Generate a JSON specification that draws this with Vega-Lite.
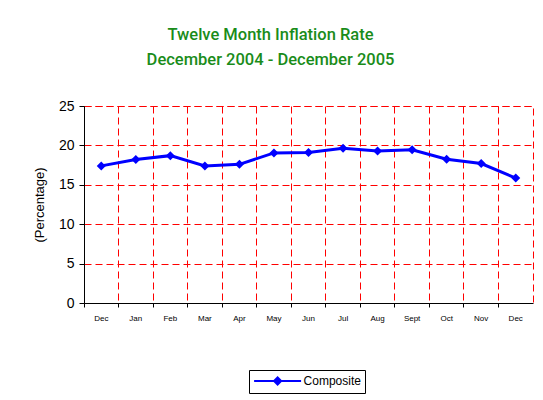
{
  "$schema": "https://vega.github.io/schema/vega-lite/v6.json",
  "width": 449,
  "height": 197,
  "autosize": {"type": "none"},
  "padding": {"left": 84, "top": 106, "right": 10, "bottom": 97},
  "background": "white",
  "title": {
    "text": ["Twelve Month Inflation Rate", "December 2004 - December 2005"],
    "color": "#1A8C1A",
    "font": "Roboto",
    "fontSize": 16.5,
    "fontWeight": 500,
    "anchor": "middle",
    "dx": -38,
    "lineHeight": 25,
    "offset": 31
  },
  "data": {
    "values": [
      {"month": "Dec 2004", "rate": 17.4, "series": "Composite"},
      {"month": "Jan", "rate": 18.2, "series": "Composite"},
      {"month": "Feb", "rate": 18.7, "series": "Composite"},
      {"month": "Mar", "rate": 17.4, "series": "Composite"},
      {"month": "Apr", "rate": 17.6, "series": "Composite"},
      {"month": "May", "rate": 19.05, "series": "Composite"},
      {"month": "Jun", "rate": 19.1, "series": "Composite"},
      {"month": "Jul", "rate": 19.65, "series": "Composite"},
      {"month": "Aug", "rate": 19.3, "series": "Composite"},
      {"month": "Sept", "rate": 19.45, "series": "Composite"},
      {"month": "Oct", "rate": 18.25, "series": "Composite"},
      {"month": "Nov", "rate": 17.7, "series": "Composite"},
      {"month": "Dec 2005", "rate": 15.85, "series": "Composite"}
    ]
  },
  "mark": {
    "type": "line",
    "strokeWidth": 3,
    "point": {"shape": "diamond", "size": 81, "filled": true}
  },
  "encoding": {
    "x": {
      "field": "month",
      "type": "nominal",
      "sort": null,
      "scale": {"type": "band", "paddingInner": 0, "paddingOuter": 0},
      "axis": {
        "title": null,
        "labelAngle": 0,
        "labelExpr": "split(datum.label, ' ')[0]",
        "labelFont": "Liberation Sans",
        "labelFontSize": 8,
        "labelColor": "black",
        "labelPadding": 7,
        "bandPosition": 0,
        "grid": true,
        "gridColor": "#FF0000",
        "gridDash": [7, 4],
        "gridWidth": 1,
        "gridOpacity": 1,
        "domainColor": "black",
        "domainWidth": 1,
        "tickColor": "black",
        "tickSize": 4
      }
    },
    "y": {
      "field": "rate",
      "type": "quantitative",
      "scale": {"domain": [0, 25], "nice": false},
      "axis": {
        "values": [0, 5, 10, 15, 20, 25],
        "title": "(Percentage)",
        "titleFont": "Liberation Sans",
        "titleFontSize": 13,
        "titleFontWeight": "normal",
        "titleColor": "black",
        "titlePadding": 12,
        "labelFont": "Liberation Sans",
        "labelFontSize": 14,
        "labelColor": "black",
        "labelPadding": 5,
        "grid": true,
        "gridColor": "#FF0000",
        "gridDash": [7, 4],
        "gridWidth": 1,
        "gridOpacity": 1,
        "domainColor": "black",
        "domainWidth": 1,
        "tickColor": "black",
        "tickSize": 5
      }
    },
    "color": {
      "field": "series",
      "type": "nominal",
      "scale": {"range": ["#0000FF"]},
      "legend": {
        "title": null,
        "orient": "none",
        "legendX": 165,
        "legendY": 264,
        "strokeColor": "black",
        "fillColor": "white",
        "padding": 4,
        "symbolType": "M-4,0H4M-0.6,0L0,-0.6L0.6,0L0,0.6Z",
        "symbolSize": 138,
        "symbolOffset": 17.6,
        "symbolStrokeWidth": 2,
        "symbolFillColor": "#0000FF",
        "labelFont": "Liberation Sans",
        "labelFontSize": 12,
        "labelColor": "black",
        "labelOffset": 19
      }
    }
  },
  "config": {
    "view": {"stroke": "#FF0000", "strokeDash": [7, 4], "strokeWidth": 1}
  }
}
